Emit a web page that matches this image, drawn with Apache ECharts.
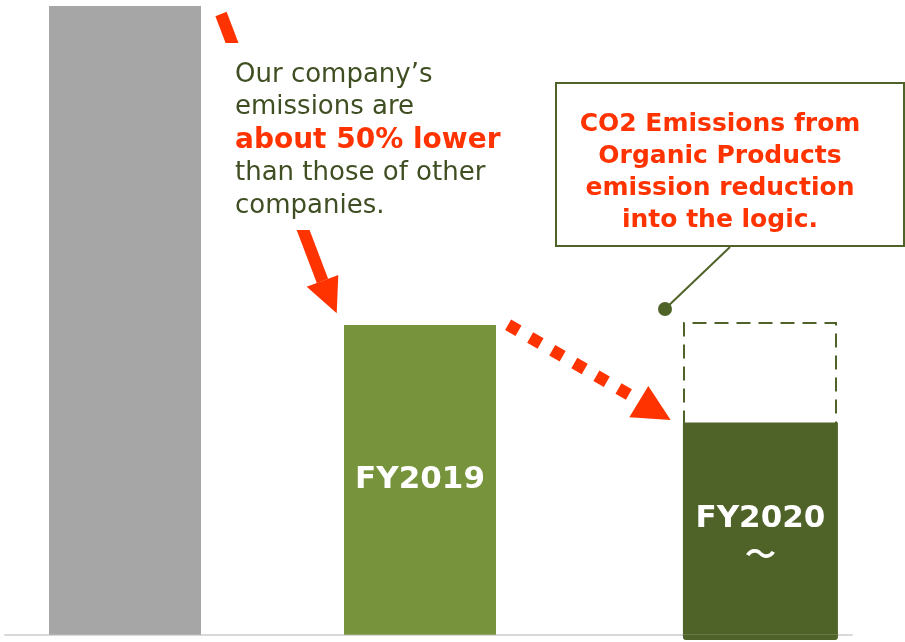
<!DOCTYPE html>
<html lang="en">
<head>
    <meta charset="UTF-8">
    <title>CO2 emissions comparison</title>
    <style>
        html, body { margin: 0; padding: 0; background: #fff; }
        .box { width: 905px; height: 642px; }
    </style>
</head>
<body>
    <div class="box" id="box"></div>
    <script src="https://cdn.jsdelivr.net/npm/echarts@6/dist/echarts.min.js"></script>
    <script>
        // bar names (shown as labels) and their place along the x axis
        var categories = ['Other companies', 'FY2019', 'FY2020\n～'];
        var positions = [0, 1, 2.154];
        // relative emissions (other companies ~ 100)
        var emissions = [99.05, 48.79, 33.43];
        // FY2020 level before counting organic products (dashed box)
        var beforeLogic = 49.26;
        var baseDip = -0.84;

        var noteLines = ['Our company\u2019s', 'emissions are', 'about 50% lower', 'than those of other', 'companies.'];
        var boxLines = ['CO2 Emissions from', 'Organic Products', 'emission reduction', 'into the logic.'];

        var red = '#ff3300';
        var olive = '#4f6228';
        var font = '"DejaVu Sans", "Noto Sans CJK JP", sans-serif';

        var myChart = echarts.init(document.getElementById('box'));

        // annotations
        var graphics = [
            // solid arrow other companies -> FY2019
            { type: 'polyline', z: 10, shape: { points: [[221, 14], [322.5, 281]] },
              style: { stroke: red, lineWidth: 12, fill: null } },
            { type: 'polygon', z: 10, shape: { points: [[306.7, 286.7], [338.3, 275], [336.7, 313.3]] },
              style: { fill: red } },
            // white patch behind the note
            { type: 'rect', z: 11, shape: { x: 212, y: 43, width: 300, height: 187 },
              style: { fill: '#fff' } },
            // dotted arrow FY2019 -> FY2020
            { type: 'polyline', z: 10, shape: { points: [[508.1, 324.7], [628.9, 394.5]] },
              style: { stroke: red, lineWidth: 12, lineDash: [12, 13.5], lineCap: 'butt', fill: null } },
            { type: 'polygon', z: 10, shape: { points: [[629.3, 417.3], [648.3, 386], [670.7, 420]] },
              style: { fill: red } },
            // callout
            { type: 'line', z: 10, shape: { x1: 730, y1: 247, x2: 665, y2: 309 },
              style: { stroke: olive, lineWidth: 2 } },
            { type: 'circle', z: 10, shape: { cx: 665, cy: 309, r: 7 }, style: { fill: olive } },
            { type: 'rect', z: 11, shape: { x: 556, y: 83, width: 348, height: 163 },
              style: { fill: '#fff', stroke: olive, lineWidth: 2 } }
        ];

        noteLines.forEach(function (t, i) {
            var bold = (i === 2);
            graphics.push({
                type: 'text', z: 12,
                style: {
                    text: t, x: 235, y: 75 + 32.7 * i,
                    fill: bold ? red : '#404f23',
                    font: (bold ? 'bold 28px ' : '26px ') + font,
                    align: 'left', textAlign: 'left',
                    verticalAlign: 'middle', textVerticalAlign: 'middle'
                }
            });
        });

        boxLines.forEach(function (t, i) {
            graphics.push({
                type: 'text', z: 12,
                style: {
                    text: t, x: 720, y: 124.5 + 32 * i,
                    fill: red,
                    font: 'bold 25px ' + font,
                    align: 'center', textAlign: 'center',
                    verticalAlign: 'middle', textVerticalAlign: 'middle'
                }
            });
        });

        var labelStyle = {
            position: 'inside',
            formatter: '{b}',
            color: '#fff',
            fontSize: 31,
            fontWeight: 'bold',
            fontFamily: font,
            lineHeight: 38
        };

        var xRange = { type: 'value', min: -0.40678, max: 2.46441 };

        var option = {
            animation: false,
            grid: { left: 5, right: 53, top: 0, bottom: 1 },
            xAxis: [
                Object.assign({
                    axisLine: { show: true, onZero: true, lineStyle: { color: '#d9d9d9', width: 2 } },
                    axisTick: { show: false },
                    axisLabel: { show: false },
                    splitLine: { show: false }
                }, xRange),
                // second (hidden) axis so the FY2020 bar can be a little wider
                Object.assign({ show: false, splitLine: { show: false } }, xRange)
            ],
            yAxis: {
                type: 'value',
                min: -1,
                max: 100,
                show: false,
                splitLine: { show: false }
            },
            series: [
                {
                    name: 'emissions',
                    type: 'bar',
                    barWidth: 152,
                    z: 3,
                    label: Object.assign({ show: false }, labelStyle),
                    data: [
                        { name: categories[0], value: [positions[0], emissions[0]], itemStyle: { color: '#a6a6a6' } },
                        { name: categories[1], value: [positions[1], emissions[1]], itemStyle: { color: '#77933c' },
                          label: { show: true } }
                    ]
                },
                {
                    name: 'FY2020',
                    type: 'bar',
                    xAxisIndex: 1,
                    barWidth: 155,
                    barGap: '-100%',
                    z: 3,
                    itemStyle: { color: olive },
                    label: Object.assign({ show: true, offset: [0, 9] }, labelStyle),
                    data: [{ name: categories[2], value: [positions[2], emissions[2]] }]
                },
                {
                    name: 'FY2020 base',
                    type: 'bar',
                    xAxisIndex: 1,
                    barWidth: 155,
                    barGap: '-100%',
                    z: 3,
                    itemStyle: { color: olive, borderRadius: [0, 0, 3, 3] },
                    data: [[positions[2], baseDip]]
                },
                {
                    // dashed outline: FY2020 level before the organic product reduction
                    name: 'logic',
                    type: 'custom',
                    z: 2,
                    silent: true,
                    encode: { x: 0, y: [1, 2] },
                    data: [[positions[2], emissions[2], beforeLogic]],
                    renderItem: function (params, api) {
                        var low = api.coord([api.value(0), api.value(1)]);
                        var high = api.coord([api.value(0), api.value(2)]);
                        var l = Math.round(low[0] - 76);
                        var r = l + 152;
                        var t = Math.round(high[1]) + 1;
                        var b = low[1] + 2;
                        return {
                            type: 'polyline',
                            shape: { points: [[l, b], [l, t], [r, t], [r, b]] },
                            style: { fill: null, stroke: olive, lineWidth: 2, lineDash: [14, 8] }
                        };
                    }
                }
            ],
            graphic: graphics
        };

        myChart.setOption(option);

        window.addEventListener('resize', function () {
            myChart.resize();
        });
    </script>
</body>
</html>
